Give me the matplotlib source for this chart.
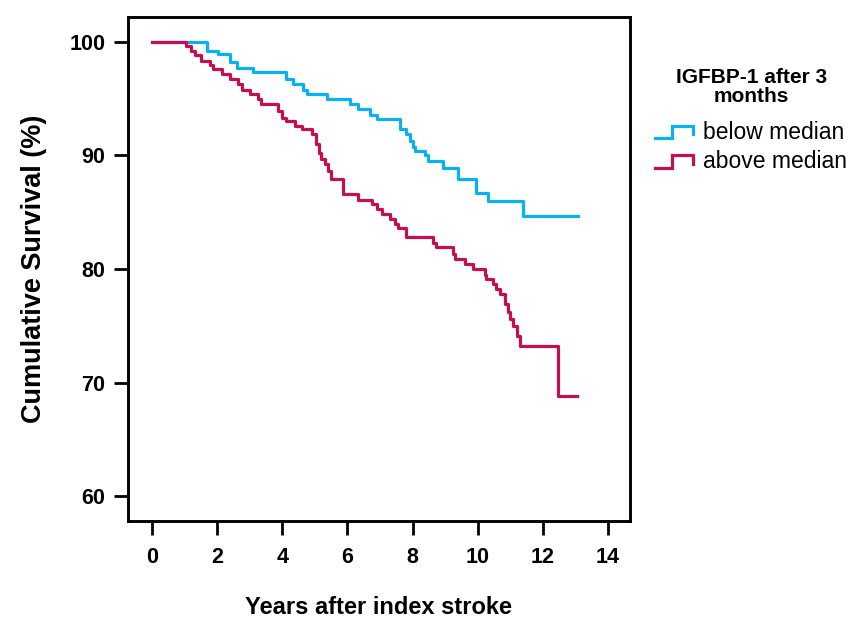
import matplotlib
matplotlib.use('Agg')
import matplotlib.pyplot as plt
from matplotlib.lines import Line2D
from matplotlib.legend_handler import HandlerBase

plt.rcParams['font.family'] = ['Liberation Sans', 'DejaVu Sans']

# Kaplan-Meier steps (time in years, survival in %)
below_t = [0, 1.70, 2.03, 2.39, 2.60, 3.10, 4.13, 4.33, 4.64, 4.75, 5.36, 6.07, 6.31,
           6.69, 6.90, 7.61, 7.81, 7.91, 8.00, 8.07, 8.37, 8.47, 8.93, 9.40, 9.96,
           10.31, 11.39, 13.08]
below_s = [100, 99.2, 98.9, 98.2, 97.7, 97.3, 96.7, 96.3, 95.8, 95.4, 94.95, 94.5, 94.1,
           93.6, 93.2, 92.3, 91.9, 91.3, 90.7, 90.4, 90.0, 89.5, 88.9, 87.9, 86.7,
           86.0, 84.7, 84.7]

above_t = [0, 1.06, 1.21, 1.31, 1.52, 1.77, 1.88, 2.14, 2.39, 2.65, 2.75, 3.00, 3.26,
           3.36, 3.87, 3.98, 4.13, 4.39, 4.60, 4.90, 5.05, 5.12, 5.20, 5.30, 5.40,
           5.50, 5.86, 6.33, 6.74, 6.90, 7.05, 7.30, 7.45, 7.55, 7.81, 8.63, 8.73,
           9.24, 9.29, 9.60, 9.86, 10.21, 10.26, 10.47, 10.57, 10.67, 10.83, 10.93,
           10.98, 11.08, 11.19, 11.29, 12.46, 13.03]
above_s = [100, 99.65, 99.2, 98.8, 98.3, 98.0, 97.6, 97.2, 96.7, 96.3, 95.8, 95.4, 94.95,
           94.5, 93.9, 93.3, 93.0, 92.6, 92.3, 91.9, 91.0, 90.2, 89.7, 89.2, 88.6,
           87.9, 86.6, 86.1, 85.7, 85.3, 84.8, 84.4, 84.0, 83.6, 82.8, 82.3, 81.9,
           81.3, 80.9, 80.4, 80.0, 79.5, 79.1, 78.7, 78.2, 77.8, 76.9, 76.2,
           75.6, 75.0, 74.1, 73.2, 68.8, 68.8]

groups = ['below median', 'above median']
colors = ['#0AB0F0', '#C40F52']
xticks = [0, 2, 4, 6, 8, 10, 12, 14]
yticks = [60, 70, 80, 90, 100]


class StepHandler(HandlerBase):
    # little step glyph like the SPSS survival legend
    def create_artists(self, legend, orig_handle, xdescent, ydescent,
                       width, height, fontsize, trans):
        x0 = -xdescent
        y0 = -ydescent
        xs = [x0, x0 + 0.45 * width, x0 + 0.45 * width, x0 + width, x0 + width]
        ys = [y0 + 0.05 * height, y0 + 0.05 * height, y0 + 0.85 * height,
              y0 + 0.85 * height, y0 + 0.3 * height]
        ln = Line2D(xs, ys, color=orig_handle.get_color(),
                    linewidth=orig_handle.get_linewidth(), solid_joinstyle='miter')
        ln.set_transform(trans)
        return [ln]


fig = plt.figure(figsize=(8.52, 6.24), dpi=100)
ax = fig.add_axes([0.150, 0.165, 0.589, 0.808])

h1, = ax.step(below_t, below_s, where='post', color=colors[0], lw=2.3)
h2, = ax.step(above_t, above_s, where='post', color=colors[1], lw=2.3)

ax.set_xlim(-0.74, 14.66)
ax.set_ylim(57.8, 102.2)
ax.set_xticks(xticks)
ax.set_yticks(yticks)
ax.tick_params(axis='both', direction='out', length=10, width=2, labelsize=15.5)
ax.tick_params(axis='x', pad=9)
ax.tick_params(axis='y', pad=6)
for lab in ax.get_xticklabels() + ax.get_yticklabels():
    lab.set_fontweight('bold')
for sp in ax.spines.values():
    sp.set_linewidth(2.1)

ax.set_xlabel('Years after index stroke', fontsize=17, fontweight='bold', labelpad=20)
ax.set_ylabel('Cumulative Survival (%)', fontsize=19.5, fontweight='bold', labelpad=16)

leg = fig.legend([h1, h2], groups, loc='upper left', bbox_to_anchor=(655 / 852, 1 - 68 / 624),
                 frameon=False, fontsize=16.5, handlelength=1.65, handletextpad=0.45,
                 labelspacing=0.27, borderpad=0, borderaxespad=0,
                 handler_map={Line2D: StepHandler()},
                 title='IGFBP-1 after 3\nmonths',
                 title_fontproperties={'weight': 'bold', 'size': 15})
leg.get_title().set_multialignment('center')
leg.get_title().set_linespacing(1.0)
leg._legend_box.sep = 11

fig.savefig('out.png', dpi=100)
plt.close('all')
